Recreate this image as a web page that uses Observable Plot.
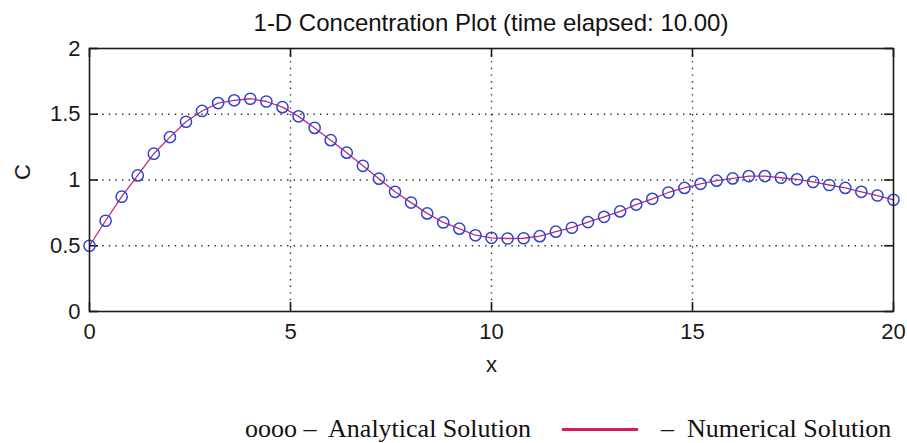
<!DOCTYPE html>
<html>
<head>
<meta charset="utf-8">
<script src="https://cdn.jsdelivr.net/npm/d3@7"></script>
<script src="https://cdn.jsdelivr.net/npm/@observablehq/plot@0.6"></script>
<style>
  html, body { margin: 0; padding: 0; background: #fff; }
  #wrap { width: 907px; height: 443px; position: relative; overflow: hidden; }
  #title {
    height: 40px; padding: 0 14px 0 89px; box-sizing: border-box; position: relative;
    font: 24px "Liberation Sans", Arial, sans-serif; color: #111; white-space: nowrap;
  }
  #title span { position: absolute; left: 89px; right: 14px; top: 8px; line-height: 30px; text-align: center; }
  #legend {
    position: absolute; left: 0; top: 414px; width: 907px; height: 29px;
    font: 26px "Liberation Serif", "Times New Roman", serif; color: #111; white-space: nowrap;
  }
  #legend span { position: absolute; top: 0; line-height: 29px; }
  #legend .a { left: 245px; }
  #legend .swatch { left: 562px; top: 14px; width: 76px; height: 3px; background: #d81b60; }
  #legend .b { left: 661px; }
</style>
</head>
<body>
<div id="wrap">
  <div id="title"><span>1-D Concentration Plot (time elapsed: 10.00)</span></div>
  <div id="chart"></div>
  <div id="legend"><span class="a">oooo –&nbsp; Analytical Solution</span><span class="swatch"></span><span class="b">–&nbsp; Numerical Solution</span></div>
</div>
<script>
// grid positions along x (every 0.4 from 0 to 20)
const xs = [0, 0.4, 0.8, 1.2, 1.6, 2.0, 2.4, 2.8, 3.2, 3.6,
            4.0, 4.4, 4.8, 5.2, 5.6, 6.0, 6.4, 6.8, 7.2, 7.6,
            8.0, 8.4, 8.8, 9.2, 9.6, 10.0, 10.4, 10.8, 11.2, 11.6,
            12.0, 12.4, 12.8, 13.2, 13.6, 14.0, 14.4, 14.8, 15.2, 15.6,
            16.0, 16.4, 16.8, 17.2, 17.6, 18.0, 18.4, 18.8, 19.2, 19.6, 20.0];

// analytical concentration at each x
const analytical = [0.500, 0.690, 0.873, 1.035, 1.200, 1.326, 1.443, 1.525, 1.585, 1.606,
                    1.618, 1.597, 1.554, 1.484, 1.396, 1.303, 1.208, 1.108, 1.010, 0.910,
                    0.828, 0.746, 0.677, 0.630, 0.580, 0.560, 0.555, 0.557, 0.573, 0.607,
                    0.637, 0.680, 0.720, 0.761, 0.813, 0.857, 0.905, 0.940, 0.971, 0.995,
                    1.012, 1.030, 1.030, 1.017, 1.005, 0.985, 0.962, 0.940, 0.910, 0.882, 0.849];

// numerical concentration at each x
const numerical = [0.500, 0.690, 0.873, 1.035, 1.200, 1.326, 1.443, 1.525, 1.585, 1.606,
                   1.618, 1.597, 1.554, 1.484, 1.396, 1.303, 1.208, 1.108, 1.010, 0.910,
                   0.828, 0.746, 0.677, 0.630, 0.580, 0.560, 0.555, 0.557, 0.573, 0.607,
                   0.637, 0.680, 0.720, 0.761, 0.813, 0.857, 0.905, 0.940, 0.971, 0.995,
                   1.012, 1.030, 1.030, 1.017, 1.005, 0.985, 0.962, 0.940, 0.910, 0.882, 0.849];

const xTicks = [0, 5, 10, 15, 20];
const yTicks = [0, 0.5, 1, 1.5, 2];
const xGrid = [5, 10, 15];
const yGrid = [0.5, 1, 1.5];

const exact = xs.map((x, i) => ({x, c: analytical[i]}));
const approx = xs.map((x, i) => ({x, c: numerical[i]}));

const W = 907, H = 360;
const mTop = 8, mBottom = 89, mLeft = 89, mRight = 14;
const plotH = H - mTop - mBottom;
const plotW = W - mLeft - mRight;
const tickLen = 9;
const ink = "#1a1a1a";
const font = "Liberation Sans, Arial, sans-serif";

const chart = Plot.plot({
  width: W,
  height: H,
  marginTop: mTop,
  marginBottom: mBottom,
  marginLeft: mLeft,
  marginRight: mRight,
  style: {fontFamily: font, color: ink, background: "#fff", overflow: "visible"},
  x: {domain: [0, 20], label: null},
  y: {domain: [0, 2], label: null},
  marks: [
    // dotted grid
    Plot.ruleX(xGrid, {stroke: ink, strokeWidth: 1.4, strokeDasharray: "1.4,5.2", strokeOpacity: 0.9}),
    Plot.ruleY(yGrid, {stroke: ink, strokeWidth: 1.4, strokeDasharray: "1.4,5.2", strokeOpacity: 0.9}),
    // inward ticks on all four sides
    Plot.tickX(xTicks, {x: d => d, insetTop: plotH - tickLen, stroke: ink, strokeWidth: 1.6}),
    Plot.tickX(xTicks, {x: d => d, insetBottom: plotH - tickLen, stroke: ink, strokeWidth: 1.6}),
    Plot.tickY(yTicks, {y: d => d, insetRight: plotW - tickLen, stroke: ink, strokeWidth: 1.6}),
    Plot.tickY(yTicks, {y: d => d, insetLeft: plotW - tickLen, stroke: ink, strokeWidth: 1.6}),
    // tick labels
    Plot.axisX({ticks: xTicks, tickSize: 0, tickPadding: 12, fontSize: 22, label: null, tickFormat: d => String(d)}),
    Plot.axisY({ticks: yTicks, tickSize: 0, tickPadding: 9, fontSize: 22, label: null, tickFormat: d => String(d)}),
    // axis titles
    Plot.text(["x"], {frameAnchor: "bottom", dy: 60, fontSize: 22, fill: ink}),
    Plot.text(["C"], {frameAnchor: "left", dx: -67, rotate: -90, fontSize: 22, fill: ink}),
    // numerical solution line
    Plot.line(approx, {x: "x", y: "c", stroke: "#bb2a82", strokeWidth: 1.3}),
    // analytical solution markers
    Plot.dot(exact, {x: "x", y: "c", r: 5.6, stroke: "#2f46cc", strokeWidth: 1.5, fill: "none"}),
    // axes box
    Plot.frame({stroke: ink, strokeWidth: 1.6})
  ]
});

document.getElementById("chart").append(chart);
</script>
</body>
</html>
